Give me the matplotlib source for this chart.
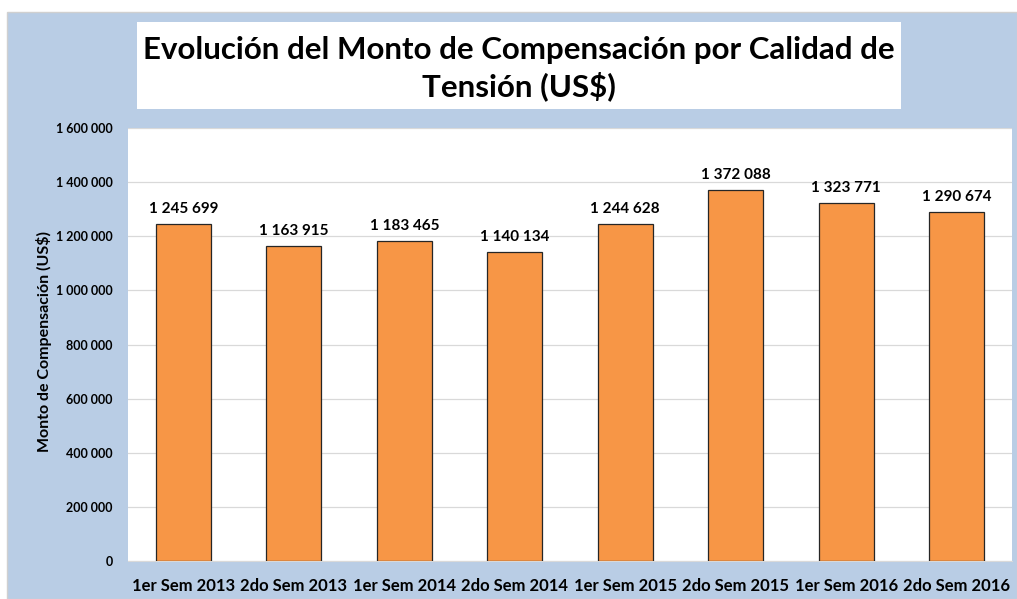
import matplotlib
matplotlib.use("Agg")
import matplotlib.pyplot as plt
from matplotlib.patches import Rectangle
from matplotlib.ticker import FuncFormatter

categories = ["1er Sem 2013", "2do Sem 2013", "1er Sem 2014", "2do Sem 2014",
              "1er Sem 2015", "2do Sem 2015", "1er Sem 2016", "2do Sem 2016"]
values = [1245699, 1163915, 1183465, 1140134, 1244628, 1372088, 1323771, 1290674]
yticks = [0, 200000, 400000, 600000, 800000, 1000000, 1200000, 1400000, 1600000]

title = "Evolución del Monto de Compensación por Calidad de\nTensión (US$)"
ylabel = "Monto de Compensación (US$)"

W, H = 1017, 599
BLUE = "#B9CDE5"
ORANGE = "#F79646"

plt.rcParams["font.family"] = ["Lato", "DejaVu Sans"]


def fmt(v, _=None):
    return f"{int(v):,}".replace(",", " ")


fig = plt.figure(figsize=(W / 100, H / 100), dpi=100, facecolor="white")

# blue chart background and white title box (behind the axes)
fig.patches.append(Rectangle((7 / W, 0), (W - 7) / W, (H - 12) / H,
                             transform=fig.transFigure, facecolor=BLUE,
                             edgecolor="#D0D0D0", linewidth=1, zorder=-2))
fig.patches.append(Rectangle((137 / W, (H - 109) / H), (901 - 137) / W, (109 - 22) / H,
                             transform=fig.transFigure, facecolor="white",
                             edgecolor="none", zorder=-1))
fig.text(519 / W, (H - 69) / H, title, ha="center", va="center",
         fontsize=22.5, fontweight="bold", linespacing=1.3, zorder=2)

ax = fig.add_axes([128 / W, (H - 561) / H, (1012 - 128) / W, (561 - 128) / H])
ax.set_zorder(1)
ax.set_facecolor("white")
x = range(len(categories))
bars = ax.bar(x, values, width=0.5, color=ORANGE, edgecolor="#262626",
              linewidth=0.9, zorder=3)

for b, v in zip(bars, values):
    ax.text(b.get_x() + b.get_width() / 2, v + 30000, fmt(v), ha="center",
            va="bottom", fontsize=11, fontweight="bold")

ax.set_xlim(-0.5, len(categories) - 0.5)
ax.set_ylim(0, 1600000)
ax.set_yticks(yticks)
ax.yaxis.set_major_formatter(FuncFormatter(fmt))
ax.set_xticks(list(x))
ax.set_xticklabels(categories, fontsize=12, fontweight="bold")
for lab in ax.get_yticklabels():
    lab.set_fontweight("bold")
    lab.set_fontsize(9)
ax.tick_params(axis="both", length=0)
ax.tick_params(axis="y", pad=11)
ax.tick_params(axis="x", pad=12)
ax.grid(axis="y", color="#D9D9D9", linewidth=0.9, zorder=0)
ax.set_axisbelow(True)
for s in ["top", "right", "left"]:
    ax.spines[s].set_visible(False)
ax.spines["bottom"].set_color("#D9D9D9")

fig.text(44 / W, (H - 342) / H, ylabel, rotation=90, ha="center", va="center",
         fontsize=11.5, fontweight="bold")

fig.savefig("out.png", dpi=100, facecolor="white")
